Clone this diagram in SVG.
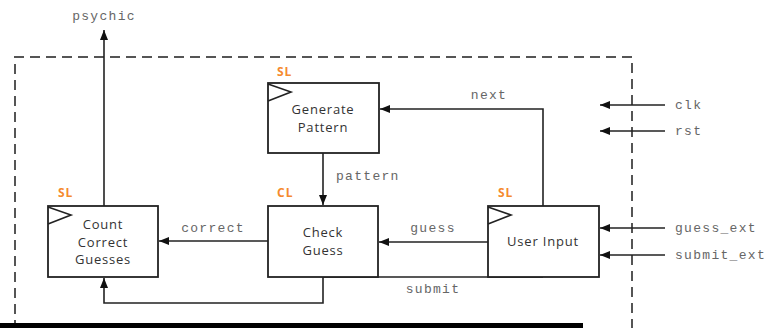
<svg xmlns="http://www.w3.org/2000/svg" width="767" height="328" viewBox="0 0 767 328">
<style>
.box{fill:#fff;stroke:#222;stroke-width:1.8}
.clk{fill:none;stroke:#222;stroke-width:1.6}
.bt{font-family:"Open Sans",sans-serif;font-size:13px;fill:#333;text-anchor:middle;letter-spacing:0.8px}
.tag{font-family:"Open Sans",sans-serif;font-size:12px;font-weight:bold;fill:#f58a2e;letter-spacing:1px}
.sig{font-family:"Liberation Mono",monospace;font-size:13px;fill:#666;letter-spacing:1.3px}
.wire{fill:none;stroke:#222;stroke-width:1.6}
.bound{fill:none;stroke:#555;stroke-width:2;stroke-dasharray:10 6}
</style>
<defs>
<marker id="ah" viewBox="0 0 10 8" refX="10" refY="4" markerWidth="10" markerHeight="8" markerUnits="userSpaceOnUse" orient="auto">
<path d="M0,0 L10,4 L0,8 Z" fill="#111"/>
</marker>
</defs>
<rect width="767" height="328" fill="#fff"/>
<path class="bound" d="M15,330 V57 H632 V330"/>

<g id="connectors">
<path class="wire" d="M104,206 V30" marker-end="url(#ah)"/>
<path class="wire" d="M543,206 V109 H380" marker-end="url(#ah)"/>
<path class="wire" d="M323,153 V205" marker-end="url(#ah)"/>
<path class="wire" d="M268,241 H159" marker-end="url(#ah)"/>
<path class="wire" d="M488,242 H379" marker-end="url(#ah)"/>
<path class="wire" d="M543,277 H323 V303 H104 V278" marker-end="url(#ah)"/>
<path class="wire" d="M665,105 H600" marker-end="url(#ah)"/>
<path class="wire" d="M665,131 H600" marker-end="url(#ah)"/>
<path class="wire" d="M665,228 H600" marker-end="url(#ah)"/>
<path class="wire" d="M665,255 H600" marker-end="url(#ah)"/>
<text class="sig" x="104" y="20" text-anchor="middle">psychic</text>
<text class="sig" x="489" y="99" text-anchor="middle">next</text>
<text class="sig" x="336" y="180">pattern</text>
<text class="sig" x="213" y="232" text-anchor="middle">correct</text>
<text class="sig" x="433" y="232" text-anchor="middle">guess</text>
<text class="sig" x="433" y="293" text-anchor="middle">submit</text>
<text class="sig" x="675" y="109">clk</text>
<text class="sig" x="675" y="135">rst</text>
<text class="sig" x="675" y="232">guess_ext</text>
<text class="sig" x="675" y="259">submit_ext</text>
</g>

<g id="generate">
<text class="tag" x="277" y="76">SL</text>
<rect class="box" x="268" y="83" width="111" height="70"/>
<path class="clk" d="M268,84 L291,92 L268,101"/>
<text class="bt" x="323" y="114">Generate</text>
<text class="bt" x="323" y="131.5">Pattern</text>
</g>

<g id="check">
<text class="tag" x="277" y="197">CL</text>
<rect class="box" x="268" y="206" width="110" height="71"/>
<text class="bt" x="323" y="237">Check</text>
<text class="bt" x="323" y="254.5">Guess</text>
</g>

<g id="user">
<text class="tag" x="498" y="197">SL</text>
<rect class="box" x="488" y="206" width="111" height="71"/>
<path class="clk" d="M488,207 L511,215 L488,224"/>
<text class="bt" x="543" y="246">User Input</text>
</g>

<g id="count">
<text class="tag" x="58" y="197">SL</text>
<rect class="box" x="48" y="206" width="110" height="71"/>
<path class="clk" d="M48,207 L71,215 L48,224"/>
<text class="bt" x="103" y="229">Count</text>
<text class="bt" x="103" y="246.5">Correct</text>
<text class="bt" x="103" y="264">Guesses</text>
</g>

<rect x="0" y="323" width="583" height="6" fill="#000"/>
</svg>
